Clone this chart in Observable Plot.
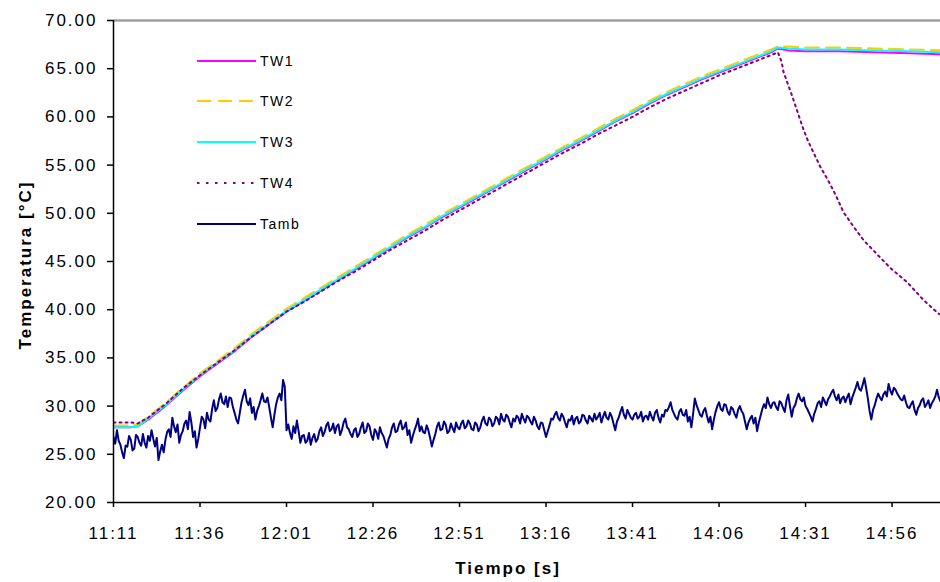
<!DOCTYPE html>
<html>
<head>
<meta charset="utf-8">
<script src="https://cdn.jsdelivr.net/npm/d3@7"></script>
<script src="https://cdn.jsdelivr.net/npm/@observablehq/plot@0.6"></script>
<style>
  body { margin: 0; background: #fff; }
  #chart { position: relative; width: 940px; height: 582px; }
  #chart svg text { font-family: "Liberation Sans", Arial, sans-serif; }
  #chart svg [aria-label$="tick label"] text { letter-spacing: 2px; }
  #legend { position: absolute; left: 0; top: 0; pointer-events: none; }
</style>
</head>
<body>
<div id="chart"></div>
<script>
// Clock labels of the time axis (every 25 minutes)
const xTickLabels = ["11:11", "11:36", "12:01", "12:26", "12:51", "13:16", "13:41", "14:06", "14:31", "14:56"];
const yTicks = [20, 25, 30, 35, 40, 45, 50, 55, 60, 65, 70];

// Minutes after 11:11 at which the wall temperatures are given
const twMinutes = [0, 5, 7, 10, 15, 20, 25, 30, 35, 40, 45, 50, 55, 60, 65, 70, 75, 80, 85, 90, 95, 100,
  105, 110, 115, 120, 125, 130, 135, 140, 145, 150, 155, 160, 165, 170, 175, 180, 185, 190, 192,
  195, 200, 210, 220, 230, 239];
const tw1 = [27.8, 27.8, 27.9, 28.6, 30.0, 31.6, 33.1, 34.4, 35.7, 37.2, 38.5, 39.8, 40.9, 42.0, 43.1, 44.2,
  45.3, 46.4, 47.5, 48.5, 49.6, 50.6, 51.6, 52.6, 53.6, 54.6, 55.6, 56.6, 57.5, 58.5, 59.5, 60.4, 61.4,
  62.3, 63.1, 63.9, 64.6, 65.3, 66.0, 66.7, 67.1, 66.9, 66.8, 66.8, 66.7, 66.6, 66.5];
const tw2 = [28.0, 28.0, 28.1, 28.9, 30.3, 31.9, 33.4, 34.7, 36.0, 37.5, 38.8, 40.1, 41.2, 42.3, 43.4, 44.5,
  45.6, 46.7, 47.8, 48.8, 49.9, 50.9, 51.9, 52.9, 53.9, 54.9, 55.9, 56.9, 57.8, 58.8, 59.8, 60.7, 61.7,
  62.6, 63.4, 64.2, 64.9, 65.6, 66.3, 67.0, 67.3, 67.3, 67.2, 67.2, 67.1, 67.0, 66.9];
const tw3 = [27.8, 27.8, 27.9, 28.7, 30.1, 31.7, 33.2, 34.5, 35.8, 37.3, 38.6, 39.9, 41.0, 42.1, 43.2, 44.3,
  45.4, 46.5, 47.6, 48.6, 49.7, 50.7, 51.7, 52.7, 53.7, 54.7, 55.7, 56.7, 57.6, 58.6, 59.6, 60.5, 61.5,
  62.4, 63.2, 64.0, 64.7, 65.4, 66.1, 66.8, 67.2, 67.1, 67.0, 67.0, 66.9, 66.8, 66.7];

// TW4 has its own time base: it cools down after the heating stops
const tw4Minutes = [0, 5, 7, 10, 15, 20, 25, 30, 35, 40, 45, 50, 55, 60, 65, 70, 75, 80, 85, 90, 95, 100,
  105, 110, 115, 120, 125, 130, 135, 140, 145, 150, 155, 160, 165, 170, 175, 180, 185, 190, 192,
  193.1, 193.6, 194.8, 196.2, 197.7, 199.1, 200.6, 202.3, 204.3, 206.4, 208.7, 211.0, 213.9, 216.8,
  220.8, 224.6, 229.5, 234.1, 238.4, 239];
const tw4 = [28.3, 28.3, 28.2, 28.8, 30.2, 31.8, 33.2, 34.5, 35.8, 37.2, 38.5, 39.8, 40.8, 41.9, 43.0, 44.0,
  45.1, 46.2, 47.2, 48.2, 49.3, 50.3, 51.3, 52.3, 53.3, 54.3, 55.3, 56.3, 57.2, 58.2, 59.1, 60.0, 61.0,
  61.9, 62.7, 63.5, 64.3, 65.0, 65.7, 66.4, 66.7,
  65.7, 64.7, 63.5, 62.1, 60.5, 59.0, 57.6, 56.3, 54.8, 53.5, 51.9, 50.1, 48.6, 47.2,
  45.7, 44.3, 42.8, 41.0, 39.6, 39.5];

// Ambient temperature, one reading every half minute from 11:11 (one row = 10 minutes)
const tambStepMinutes = 0.5;
const tamb = [
  26.8,26.1, 27.5,26.4, 26.0,25.2, 24.6,25.9, 25.8,26.9, 26.5,25.4, 25.6,27.0, 26.8,26.2, 25.9,27.1, 26.2,25.7,
  26.9,26.4, 27.5,26.6, 25.8,26.7, 24.4,25.3, 26.0,25.2, 26.5,27.3, 27.6,26.8, 28.8,27.9, 27.3,28.1, 26.2,27.0,
  27.4,28.2, 28.5,27.6, 29.4,28.3, 26.8,27.4, 25.7,26.6, 27.8,28.9, 28.6,27.7, 29.3,28.6, 28.4,29.7, 30.6,29.5,
  29.8,30.7, 31.3,30.4, 30.2,31.0, 29.9,30.9, 30.8,29.9, 29.3,28.6, 28.2,29.3, 30.4,31.1, 31.7,30.5, 30.1,30.8,
  29.3,29.9, 28.6,29.5, 30.0,30.6, 31.3,30.5, 30.4,30.9, 29.9,28.8, 27.8,29.1, 30.2,30.9, 31.3,30.6, 32.7,32.0,
  27.5,28.1, 27.2,26.6, 27.9,27.2, 28.5,27.4, 26.2,26.9, 27.0,26.2, 26.4,27.2, 26.0,26.7, 27.1,26.3, 26.6,27.4,
  27.8,26.9, 27.3,28.0, 28.3,27.4, 27.6,28.2, 27.2,27.9, 28.1,27.0, 27.5,28.3, 28.7,27.8, 27.6,27.1, 26.8,27.5,
  27.7,26.8, 27.1,27.8, 28.3,27.2, 27.4,28.2, 27.9,27.0, 26.5,27.6, 27.3,26.6, 27.8,27.2, 26.9,26.3, 25.7,26.6,
  27.0,27.8, 28.2,27.3, 27.4,28.1, 28.5,27.6, 27.8,28.3, 27.0,27.5, 26.2,26.9, 27.5,28.0, 28.7,27.4, 27.9,27.3,
  27.2,28.0, 27.5,26.7, 25.8,26.5, 27.1,27.9, 28.3,27.5, 27.6,28.4, 28.1,27.2, 27.4,28.2, 27.7,27.3, 28.3,27.8,
  27.6,28.2, 28.5,27.7, 27.9,28.5, 28.2,27.6, 27.5,28.3, 28.1,27.4, 27.8,28.5, 28.9,28.2, 28.0,28.8, 28.6,27.9,
  28.2,28.9, 28.7,28.1, 29.2,28.6, 28.4,29.1, 28.9,28.3, 27.8,28.7, 28.4,29.0, 28.8,28.2, 29.2,28.7, 28.3,29.0,
  28.8,28.4, 28.1,28.9, 28.5,27.9, 27.6,28.3, 28.2,27.5, 26.8,27.4, 28.0,28.7, 28.6,29.1, 29.4,28.8, 28.5,29.2,
  28.9,28.3, 27.8,28.6, 28.5,29.0, 28.1,28.7, 28.9,28.2, 28.4,29.1, 29.0,28.5, 28.2,29.0, 28.7,28.4, 29.2,28.6,
  28.9,29.3, 28.3,28.9, 29.4,28.8, 28.6,29.3, 28.9,28.2, 27.5,28.4, 28.8,29.4, 29.9,29.1, 28.7,29.6, 29.2,28.8,
  28.6,29.1, 29.3,28.7, 28.9,29.4, 28.4,28.9, 29.0,28.6, 29.4,28.9, 28.5,29.3, 29.6,28.8, 28.3,29.1, 28.9,29.6,
  29.5,29.9, 30.4,29.6, 29.2,28.8, 28.6,29.4, 29.7,29.1, 29.0,29.6, 28.4,28.9, 27.8,29.2, 30.8,30.1, 29.6,29.1,
  28.9,29.5, 29.8,29.0, 28.3,28.9, 27.6,28.6, 29.4,30.0, 30.4,29.7, 29.5,30.2, 30.1,29.4, 29.1,29.9, 29.7,29.2,
  28.8,29.6, 30.0,29.5, 29.2,28.4, 27.6,28.3, 28.7,29.0, 28.2,28.8, 27.4,28.3, 29.0,29.7, 30.2,29.8, 30.9,30.2,
  29.8,30.3, 30.4,29.9, 29.6,30.5, 30.3,29.8, 29.4,30.6, 31.2,30.0, 28.9,29.8, 30.1,30.8, 31.3,30.7, 30.5,30.9,
  30.0,29.7, 29.3,28.9, 28.4,29.2, 29.7,30.3, 30.5,29.9, 30.9,30.5, 30.1,30.7, 31.0,31.4, 31.7,31.0, 30.6,31.2,
  30.3,30.8, 31.0,30.4, 30.9,31.3, 30.2,30.9, 31.4,31.9, 32.5,31.8, 31.6,32.2, 32.9,31.9, 30.8,29.5, 28.6,29.6,
  30.1,30.8, 31.3,30.9, 30.6,31.2, 31.5,31.0, 32.3,31.6, 31.2,31.9, 31.7,31.3, 31.0,30.7, 30.6,31.1, 30.4,29.9,
  29.8,30.2, 30.5,29.6, 29.1,29.8, 30.1,30.6, 30.8,29.9, 30.2,30.6, 29.8,30.3, 30.6,31.0, 31.7,30.9, 30.5
];

const parseClock = d3.utcParse("%H:%M");
const start = parseClock(xTickLabels[0]);
const at = m => new Date(+start + m * 60000);
const rows = (times, values) => values.map((v, i) => ({t: at(times[i]), v}));

const series = [
  {name: "TW1", color: "#ff00ff", dash: null, legendDash: null, width: 2, data: rows(twMinutes, tw1)},
  {name: "TW2", color: "#ffcc00", dash: "14,7", legendDash: "14,7", width: 2, data: rows(twMinutes, tw2)},
  {name: "TW3", color: "#00ffff", dash: null, legendDash: null, width: 2, data: rows(twMinutes, tw3)},
  {name: "TW4", color: "#800080", dash: "2,4", legendDash: "2.5,6.5", width: 2, data: rows(tw4Minutes, tw4)},
  {name: "Tamb", color: "#000080", dash: null, legendDash: null, width: 2,
   data: rows(tamb.map((_, i) => i * tambStepMinutes), tamb)}
];

const chart = Plot.plot({
  width: 940,
  height: 582,
  marginLeft: 113,
  marginRight: 0,
  marginTop: 20,
  marginBottom: 80,
  style: {background: "#fff", color: "#000", fontSize: "17px", overflow: "visible"},
  x: {type: "utc", domain: [start, at(239)]},
  y: {domain: [20, 70]},
  marks: [
    Plot.ruleY([70], {stroke: "#a0a0a0", strokeWidth: 2.5}),
    ...series.map(s => Plot.line(s.data, {
      x: "t", y: "v", stroke: s.color, strokeWidth: s.width,
      strokeDasharray: s.dash, clip: true
    })),
    Plot.ruleX([start], {stroke: "#000", strokeWidth: 1.5}),
    Plot.ruleY([20], {stroke: "#000", strokeWidth: 1.5}),
    Plot.axisY({
      ticks: yTicks, tickFormat: d => d.toFixed(2), tickSize: 6, tickPadding: 10,
      label: null, fontSize: 17, strokeWidth: 1.5
    }),
    Plot.axisX({
      ticks: xTickLabels.map(parseClock), tickFormat: d3.utcFormat("%H:%M"),
      tickSize: 5, tickPadding: 19, label: null, fontSize: 17, strokeWidth: 1.5
    })
  ]
});

const root = document.getElementById("chart");
root.appendChild(chart);

// Axis titles
const svg = d3.select(chart);
svg.append("text")
  .attr("transform", "translate(31,265) rotate(-90)")
  .attr("text-anchor", "middle")
  .attr("font-size", 17).attr("font-weight", "bold").attr("fill", "#000")
  .style("letter-spacing", "2px")
  .text("Temperatura [°C]");
svg.append("text")
  .attr("x", 508).attr("y", 574)
  .attr("text-anchor", "middle")
  .attr("font-size", 17).attr("font-weight", "bold").attr("fill", "#000")
  .style("letter-spacing", "2px")
  .text("Tiempo [s]");

// Legend inside the plot area
const legend = d3.select(root).append("svg")
  .attr("id", "legend").attr("width", 940).attr("height", 582);
const rowY = [61, 101, 142, 183, 224];
series.forEach((s, i) => {
  const g = legend.append("g").attr("transform", `translate(197,${rowY[i]})`);
  g.append("line").attr("x1", 0).attr("x2", 59).attr("y1", 0).attr("y2", 0)
    .attr("stroke", s.color).attr("stroke-width", 2)
    .attr("stroke-dasharray", s.legendDash);
  g.append("text").attr("x", 63).attr("y", 0).attr("dy", "0.36em")
    .attr("font-size", 14).attr("fill", "#000")
    .style("letter-spacing", "1.5px")
    .text(s.name);
});
</script>
</body>
</html>
